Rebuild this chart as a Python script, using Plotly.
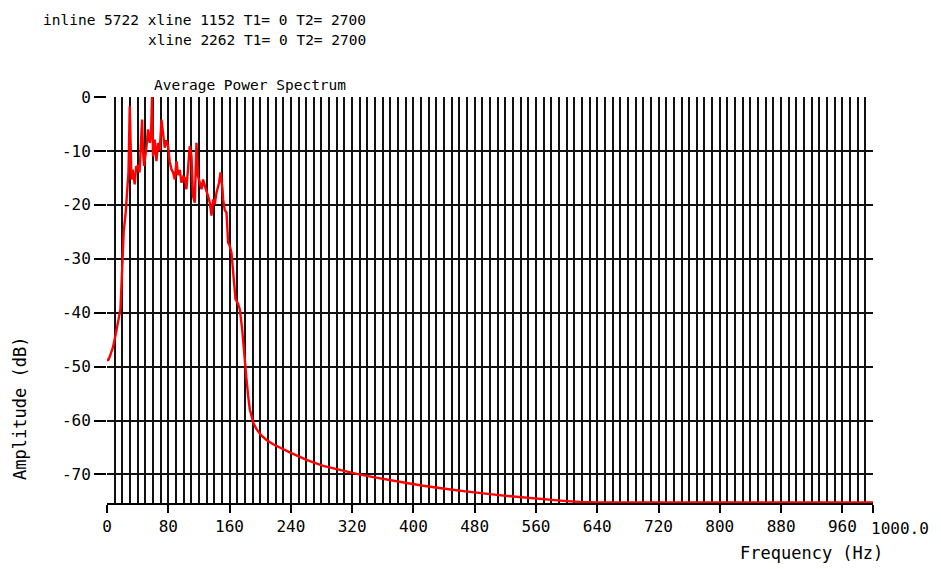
import plotly.graph_objects as go

# Average power spectrum: frequency (Hz) vs amplitude (dB)
freq_hz = [
    0, 1.3, 4, 7.8, 11.4, 14.4, 17.5, 18.8, 20.0, 21.8, 24.4, 26.5, 28.0, 29.7,
    30.8, 31.9, 33.5, 36.2, 38.0, 40.5, 42.5, 44.9, 45.8, 47.0, 48.4, 51.4, 53.6,
    55.8, 57.5, 58.8, 60.1, 62.3, 64.5, 66.7, 68.9, 71.1, 73.2, 75.4, 77.5, 79.7,
    81.9, 84.1, 86.2, 88.5, 90.7, 92.8, 95.0, 97.2, 99.5, 101.5, 103.7, 105.8,
    108.1, 110.3, 112.4, 114.6, 116.8, 118.9, 121.0, 123.4, 125.4, 127.2, 129.0,
    132.0, 134.2, 136.4, 138.5, 140.7, 143.0, 146.3, 148.2, 150.8, 151.6, 153.8,
    156.0, 158.1, 160.0, 162.5, 163.9, 166.9, 167.8, 171.2, 173.4, 176.4, 177.7,
    179.9, 182.1, 184.2, 186.5, 188.7, 190.8, 195.2, 199.5, 201.7, 208.3, 216.9,
    238.7, 260.5, 282.2, 304, 325.9, 347.6, 369.4, 391.2, 412.9, 430.4, 443.5,
    465.2, 487, 508.8, 530.5, 552.3, 574.1, 595.8, 617.7, 639.5, 1000,
]
amp_db = [
    -48.5, -48.9, -48.0, -46.4, -44.0, -41.8, -39.4, -35.3, -30.4, -25.0, -21.4,
    -18.0, -14.0, -1.7, -12.0, -15.3, -13.5, -16.2, -13.0, -12.8, -14.0, -8.5,
    -4.2, -10.0, -12.8, -9.4, -6.0, -8.5, -7.0, 0.0, -11.0, -7.9, -11.9, -8.5,
    -9.9, -4.2, -6.6, -9.4, -8.0, -9.1, -12.0, -13.4, -14.0, -15.3, -11.9, -14.5,
    -13.5, -15.9, -14.8, -15.0, -17.1, -13.4, -9.1, -11.0, -18.4, -19.6, -8.5,
    -14.7, -16.0, -17.1, -15.3, -16.5, -17.1, -18.4, -19.6, -22.0, -19.0, -19.9,
    -17.7, -15.9, -14.0, -17.1, -19.0, -21.0, -21.4, -27.0, -27.5, -28.9, -31.0,
    -35.0, -37.5, -38.4, -39.4, -43.0, -45.5, -48.6, -52.3, -55.4, -58.0, -59.1,
    -60.4, -61.6, -62.4, -62.8, -63.6, -64.4, -65.9, -67.3, -68.4, -69.2, -69.9,
    -70.5, -71.1, -71.6, -72.1, -72.5, -72.7, -73.1, -73.5, -73.8, -74.1, -74.4,
    -74.7, -74.9, -75.1, -75.2, -75.2,
]

x_tick_vals = [0, 80, 160, 240, 320, 400, 480, 560, 640, 720, 800, 880, 960, 1000]
x_tick_text = ["0", "80", "160", "240", "320", "400", "480", "560", "640",
               "720", "800", "880", "960", ""]
y_tick_vals = [0, -10, -20, -30, -40, -50, -60, -70]
y_tick_text = ["0", "-10", "-20", "-30", "-40", "-50", "-60", "-70"]

header_line1 = "inline 5722 xline 1152 T1= 0 T2= 2700"
header_line2 = "xline 2262 T1= 0 T2= 2700"
chart_title = "Average Power Spectrum"
x_title = "Frequency (Hz)"
y_title = "Amplitude (dB)"
x_end_label = "1000.0"

MONO = "DejaVu Sans Mono"
GRID = "#111111"

fig = go.Figure()
fig.add_trace(go.Scatter(
    x=freq_hz, y=amp_db, mode="lines",
    line=dict(color="#ff0000", width=2.4),
    hoverinfo="skip", showlegend=False,
))

fig.update_layout(
    width=941, height=569, autosize=False,
    margin=dict(l=107, r=68, t=97, b=66),
    paper_bgcolor="white", plot_bgcolor="white",
    font=dict(family=MONO, color="black", size=16),
    xaxis=dict(
        range=[0, 1000], tickmode="array", tickvals=x_tick_vals, ticktext=x_tick_text,
        ticks="outside", ticklen=8, tickwidth=1.5, tickcolor="black",
        showgrid=True, gridcolor=GRID, gridwidth=1.6, zeroline=False,
        showline=True, linecolor="black", linewidth=2,
        tickfont=dict(family=MONO, size=16),
        minor=dict(tickmode="linear", tick0=0, dtick=10, showgrid=True,
                   gridcolor=GRID, gridwidth=1.6, ticks=""),
    ),
    yaxis=dict(
        range=[-75.3, 0], tickmode="array", tickvals=y_tick_vals, ticktext=y_tick_text,
        ticks="outside", ticklen=12, tickwidth=1.5, tickcolor="black",
        showgrid=True, gridcolor=GRID, gridwidth=1.6, zeroline=False,
        showline=False,
        tickfont=dict(family=MONO, size=16),
    ),
)

annotations = [
    dict(text=header_line1, x=(368 - 107) / 765, y=1.19, xanchor="right", yanchor="middle",
         font=dict(size=14.5)),
    dict(text=header_line2, x=(368 - 107) / 765, y=1.14, xanchor="right", yanchor="middle",
         font=dict(size=14.5)),
    dict(text=chart_title, x=(250 - 107) / 765, y=1.03, xanchor="center", yanchor="middle",
         font=dict(size=14.5)),
    dict(text=x_title, x=(811 - 107) / 765, y=-0.123, xanchor="center", yanchor="middle",
         font=dict(size=17)),
    dict(text=y_title, x=(20 - 107) / 765, y=(503 - 408) / 406, xanchor="center",
         yanchor="middle", textangle=-90, font=dict(size=17)),
    dict(text=x_end_label, x=1000, xref="x", y=-0.062, xanchor="left", yanchor="middle",
         xshift=-4, font=dict(size=16)),
]
for a in annotations:
    a.setdefault("xref", "paper")
    a["yref"] = "paper"
    a["showarrow"] = False
    a["font"]["family"] = MONO
    fig.add_annotation(**a)

fig.write_html("out.html")
